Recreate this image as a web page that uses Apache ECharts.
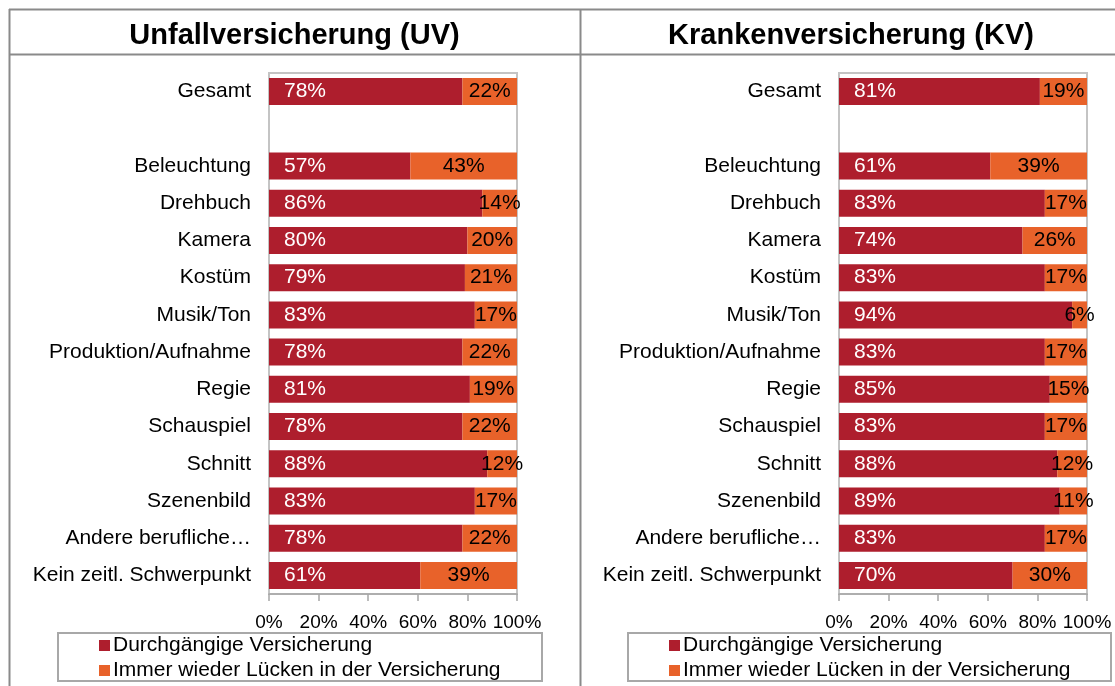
<!DOCTYPE html>
<html>
<head>
<meta charset="utf-8">
<script src="https://cdn.jsdelivr.net/npm/echarts@6/dist/echarts.min.js"></script>
<style>
  html, body { margin: 0; padding: 0; background: #fff; }
  #chart { width: 1115px; height: 686px; }
</style>
</head>
<body>
<div id="chart"></div>
<script>
// Rows of both panels (blank row separates the total from the groups)
const categories = ['Gesamt', '', 'Beleuchtung', 'Drehbuch', 'Kamera', 'Kostüm', 'Musik/Ton',
  'Produktion/Aufnahme', 'Regie', 'Schauspiel', 'Schnitt', 'Szenenbild',
  'Andere berufliche…', 'Kein zeitl. Schwerpunkt'];

const seriesNames = ['Durchgängige Versicherung', 'Immer wieder Lücken in der Versicherung'];
const panelTitles = ['Unfallversicherung (UV)', 'Krankenversicherung (KV)'];
const xTicks = [0, 20, 40, 60, 80, 100];

// Unfallversicherung (UV), in percent
const uvDurchgaengig = [78, '-', 57, 86, 80, 79, 83, 78, 81, 78, 88, 83, 78, 61];
const uvLuecken      = [22, '-', 43, 14, 20, 21, 17, 22, 19, 22, 12, 17, 22, 39];

// Krankenversicherung (KV), in percent
const kvDurchgaengig = [81, '-', 61, 83, 74, 83, 94, 83, 85, 83, 88, 89, 83, 70];
const kvLuecken      = [19, '-', 39, 17, 26, 17, 6, 17, 15, 17, 12, 11, 17, 30];

const RED = '#AE1E2D';
const ORANGE = '#E8622A';
const FONT = '"Liberation Sans", Arial, sans-serif';
const FRAME = '#8a8a8a';

const chart = echarts.init(document.getElementById('chart'), null, { renderer: 'canvas' });

const grids = [
  { left: 269, right: 1115 - 517, top: 73, bottom: 686 - 594 },
  { left: 839, right: 1115 - 1087, top: 73, bottom: 686 - 594 }
];

function xAxisFor(i) {
  return {
    type: 'value', gridIndex: i, min: 0, max: 100, interval: 20,
    axisLine: { show: true, lineStyle: { color: '#a6a6a6', width: 1.5 } },
    axisTick: { show: true, length: 7, lineStyle: { color: '#a6a6a6', width: 1.5 } },
    splitLine: { show: false },
    axisLabel: {
      margin: 19, color: '#000', fontSize: 19, fontFamily: FONT,
      customValues: xTicks, formatter: '{value}%'
    }
  };
}

function yAxisFor(i) {
  return {
    type: 'category', gridIndex: i, data: categories, inverse: true,
    axisLine: { show: false }, axisTick: { show: false },
    axisLabel: { margin: 18, color: '#000', fontSize: 21, fontFamily: FONT }
  };
}

function barSeries(i, name, data, color, isFirst) {
  return {
    name: name, type: 'bar', stack: 'p' + i, xAxisIndex: i, yAxisIndex: i,
    data: data, barWidth: 27,
    itemStyle: { color: color },
    label: isFirst
      ? { show: true, position: 'insideLeft', distance: 15, color: '#fff',
          fontSize: 21, fontFamily: FONT, formatter: '{c}%' }
      : { show: true, position: 'inside', color: '#000',
          fontSize: 21, fontFamily: FONT, formatter: '{c}%' }
  };
}

function legendFor(left) {
  return {
    orient: 'vertical', left: left, top: 635, padding: 0,
    itemWidth: 11, itemHeight: 11, itemGap: 4,
    icon: 'rect', data: seriesNames, selectedMode: false,
    textStyle: { color: '#000', fontSize: 21, fontFamily: FONT, padding: [0, 0, 0, -2] }
  };
}

function hLine(y) {
  return { type: 'line', shape: { x1: 9, y1: y, x2: 1115, y2: y },
    style: { stroke: FRAME, lineWidth: 2 }, silent: true };
}
function vLine(x) {
  return { type: 'line', shape: { x1: x, y1: 9, x2: x, y2: 686 },
    style: { stroke: FRAME, lineWidth: 2 }, silent: true };
}
function box(x, y, w, h) {
  return { type: 'rect', shape: { x: x, y: y, width: w, height: h },
    style: { fill: 'none', stroke: '#a8a8a8', lineWidth: 2 }, silent: true, z: -1 };
}
function titleText(x, text) {
  return { type: 'text', x: x, y: 36, silent: true,
    style: { text: text, fill: '#000', fontSize: 29, fontWeight: 'bold', fontFamily: FONT,
      align: 'center', verticalAlign: 'middle' } };
}

chart.setOption({
  animation: false,
  backgroundColor: '#fff',
  grid: grids.map(g => Object.assign({ show: true, borderColor: '#c4c4c4', borderWidth: 2,
    backgroundColor: 'transparent' }, g)),
  xAxis: [xAxisFor(0), xAxisFor(1)],
  yAxis: [yAxisFor(0), yAxisFor(1)],
  legend: [legendFor(99), legendFor(669)],
  series: [
    barSeries(0, seriesNames[0], uvDurchgaengig, RED, true),
    barSeries(0, seriesNames[1], uvLuecken, ORANGE, false),
    barSeries(1, seriesNames[0], kvDurchgaengig, RED, true),
    barSeries(1, seriesNames[1], kvLuecken, ORANGE, false)
  ],
  graphic: [
    hLine(9.5), hLine(54.5), vLine(9.5), vLine(580.5),
    titleText(294.5, panelTitles[0]), titleText(851, panelTitles[1]),
    box(58, 633, 484, 48), box(628, 633, 483, 48)
  ]
});
</script>
</body>
</html>
